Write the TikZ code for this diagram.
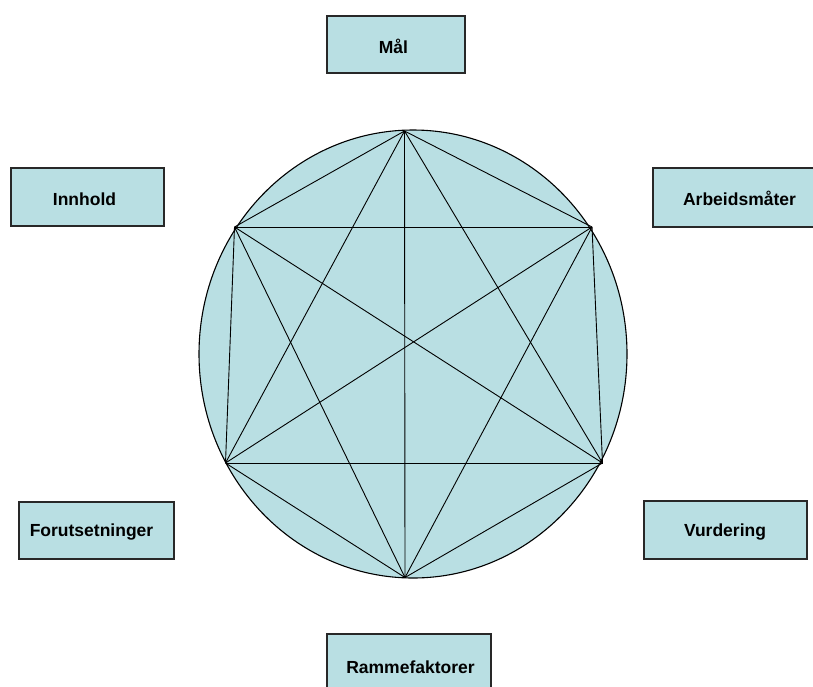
\documentclass[tikz,border=0pt]{standalone}
\usepackage{fontspec}
\setmainfont{Liberation Sans}
\definecolor{tealfill}{RGB}{185,223,227}
\definecolor{boxline}{RGB}{40,40,40}
\begin{document}
\begin{tikzpicture}[x=1pt,y=-1pt,
  box/.style={draw=boxline, line width=1.1pt, fill=tealfill, inner sep=0pt},
  lbl/.style={anchor=base, font=\fontsize{17.5}{20}\selectfont\bfseries, inner sep=0pt},
  edge/.style={line width=0.9pt, black},
  vx/.style={inner sep=0pt, minimum size=0pt}]
\clip (0,0) rectangle (813,686);
\fill[white] (0,0) rectangle (813,686);
% boxes
\node[box, minimum width=138, minimum height=57] (mal) at (396,44.5) {};
\node[box, minimum width=153, minimum height=58] (inn) at (87.5,197) {};
\node[box, minimum width=170, minimum height=59] (arb) at (738,197.5) {};
\node[box, minimum width=155, minimum height=57] (for) at (96.5,530.5) {};
\node[box, minimum width=163, minimum height=58] (vur) at (725.5,530) {};
\node[box, minimum width=164, minimum height=70] (ram) at (409,669) {};
\node[lbl] (tmal) at (393.5,53.3) {Mål};
\node[lbl] (tinn) at (84.5,205) {Innhold};
\node[lbl] (tarb) at (739.5,205.7) {Arbeidsmåter};
\node[lbl] (tfor) at (91.5,536.7) {Forutsetninger};
\node[lbl] (tvur) at (725,536.7) {Vurdering};
\node[lbl] (tram) at (410.5,673.3) {Rammefaktorer};
% circle
\draw[fill=tealfill, line width=1.1pt] (413,354) ellipse [x radius=214, y radius=224];
% vertices
\coordinate (T) at (404.5,131);
\coordinate (UL) at (234.5,227);
\coordinate (UR) at (592,227);
\coordinate (LL) at (225.5,463);
\coordinate (LR) at (602.5,463);
\coordinate (B) at (405,577.5);
\foreach \a/\b in {T/UL,T/UR,T/LL,T/LR,T/B,UL/UR,UL/LL,UL/LR,UL/B,UR/LL,UR/LR,UR/B,LL/LR,LL/B,LR/B}
  \draw[edge] (\a) -- (\b);
\end{tikzpicture}
\end{document}
